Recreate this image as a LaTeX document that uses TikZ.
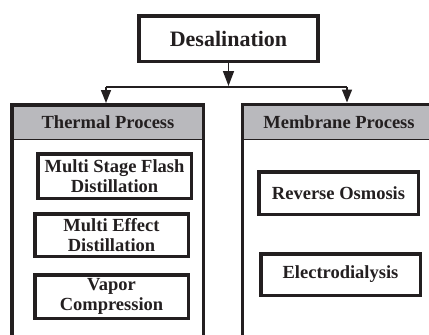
\documentclass[tikz,border=0pt]{standalone}
\usepackage{fontspec}
\setmainfont{Liberation Serif}
\usetikzlibrary{arrows.meta}
\definecolor{ink}{RGB}{35,31,32}
\definecolor{headgray}{RGB}{185,185,189}
\begin{document}
\begin{tikzpicture}[x=1pt, y=-1pt,
    every node/.style={text=ink, font=\bfseries\fontsize{18.5}{20}\selectfont, align=center, inner sep=0pt},
    box/.style={draw=ink, line width=3.5pt, minimum width=153.5pt, minimum height=43.5pt},
    outer/.style={draw=ink, line width=3.5pt},
    head/.style={fill=headgray, draw=ink, line width=0.8pt},
    link/.style={draw=ink, line width=1.5pt, -{Triangle[width=10pt,length=13pt]}}]
    \useasboundingbox (0, 0) rectangle (429, 335);
    \clip (0, 0) rectangle (429, 335);
    % top box
    \node (desal) [box, minimum width=179pt, minimum height=45.5pt,
        font=\bfseries\fontsize{22}{24}\selectfont] at (228.5, 38.5) {Desalination};
    % the two process boxes
    \draw[head] (12, 105) rectangle (203.5, 139.5);
    \draw[head] (242.5, 104.5) rectangle (440, 139.5);
    \draw[outer] (12, 400) -- (12, 105) -- (203.5, 105) -- (203.5, 400);
    \draw[outer] (242.5, 400) -- (242.5, 104.5) -- (440, 104.5);
    \node (thermal) at (108, 122.5) {Thermal Process};
    \node (membrane) at (339, 122) {Membrane Process};
    \coordinate (tt) at (106, 103);
    \coordinate (mt) at (347, 102.5);
    % thermal
    \node (msf) [box, minimum height=44.5pt] at (114.5, 176) {Multi Stage Flash\\Distillation};
    \node (med) [box, minimum height=42.5pt] at (111.5, 235) {Multi Effect\\Distillation};
    \node (vc) [box] at (111.5, 296.5) {Vapor\\Compression};
    % membrane
    \node (ro) [box, minimum width=159.5pt, minimum height=42.5pt] at (338.5, 193) {Reverse Osmosis};
    \node (ed) [box, minimum width=159.5pt, minimum height=41.5pt] at (340.5, 274.5) {Electrodialysis};
    % arrows
    \coordinate (split) at (228.5, 86);
    \coordinate (sl) at (106, 87);
    \coordinate (sr) at (347, 87);
    \draw[link, -{Triangle[width=11pt,length=15pt]}] (desal.south) -- (split);
    \draw[draw=ink, line width=1.5pt] (sl) -- (sr);
    \draw[link] (sl) -- (tt);
    \draw[link] (sr) -- (mt);
\end{tikzpicture}
\end{document}
